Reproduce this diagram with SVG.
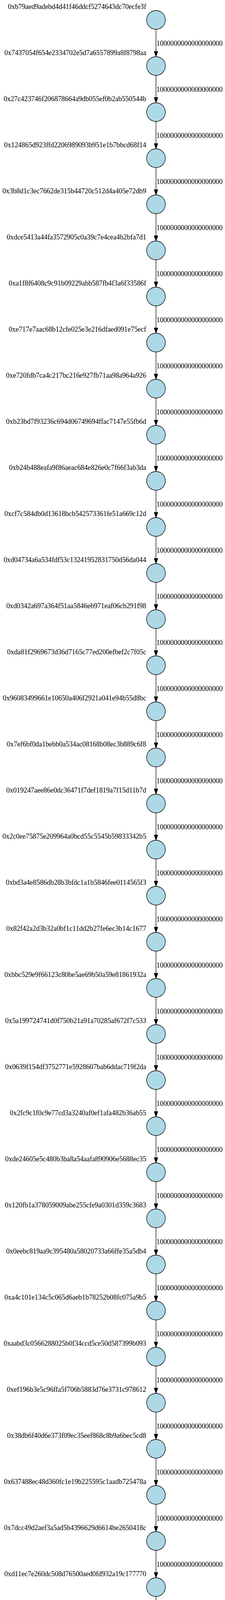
<svg xmlns="http://www.w3.org/2000/svg" width="577" height="4447" viewBox="0 0 577 4447">
<style>
.bg{fill:#ffffff}
.node circle{fill:#add8e6;stroke:#000000;stroke-width:1.3}
.node text{font-family:"Liberation Serif","Times New Roman",serif;font-size:17.9px;fill:#000000;text-anchor:end}
.edge line{stroke:#000000;stroke-width:1.3;fill:none}
.edge text{font-family:"Liberation Serif","Times New Roman",serif;font-size:17.9px;fill:#000000;text-anchor:start}
</style>
<defs>
<marker id="arrow" viewBox="0 0 14 10" refX="14" refY="5" markerUnits="userSpaceOnUse" markerWidth="14" markerHeight="10" orient="auto">
<path d="M0,0 L14,5 L0,10 z" fill="#000000" stroke="#000000" stroke-width="1"/>
</marker>
</defs>
<rect class="bg" x="0" y="0" width="577" height="4447"/>
<g id="connectors">
<g class="edge"><line x1="400" y1="75" x2="400" y2="145" marker-end="url(#arrow)"/><text x="401" y="117">1000000000000000000</text></g>
<g class="edge"><line x1="400" y1="193" x2="400" y2="263" marker-end="url(#arrow)"/><text x="401" y="235">1000000000000000000</text></g>
<g class="edge"><line x1="400" y1="311" x2="400" y2="381" marker-end="url(#arrow)"/><text x="401" y="353">1000000000000000000</text></g>
<g class="edge"><line x1="400" y1="429" x2="400" y2="499" marker-end="url(#arrow)"/><text x="401" y="471">1000000000000000000</text></g>
<g class="edge"><line x1="400" y1="547" x2="400" y2="617" marker-end="url(#arrow)"/><text x="401" y="589">1000000000000000000</text></g>
<g class="edge"><line x1="400" y1="665" x2="400" y2="735" marker-end="url(#arrow)"/><text x="401" y="707">1000000000000000000</text></g>
<g class="edge"><line x1="400" y1="783" x2="400" y2="853" marker-end="url(#arrow)"/><text x="401" y="825">1000000000000000000</text></g>
<g class="edge"><line x1="400" y1="901" x2="400" y2="971" marker-end="url(#arrow)"/><text x="401" y="943">1000000000000000000</text></g>
<g class="edge"><line x1="400" y1="1019" x2="400" y2="1089" marker-end="url(#arrow)"/><text x="401" y="1061">1000000000000000000</text></g>
<g class="edge"><line x1="400" y1="1137" x2="400" y2="1207" marker-end="url(#arrow)"/><text x="401" y="1179">1000000000000000000</text></g>
<g class="edge"><line x1="400" y1="1255" x2="400" y2="1325" marker-end="url(#arrow)"/><text x="401" y="1297">1000000000000000000</text></g>
<g class="edge"><line x1="400" y1="1373" x2="400" y2="1443" marker-end="url(#arrow)"/><text x="401" y="1415">1000000000000000000</text></g>
<g class="edge"><line x1="400" y1="1491" x2="400" y2="1561" marker-end="url(#arrow)"/><text x="401" y="1533">1000000000000000000</text></g>
<g class="edge"><line x1="400" y1="1609" x2="400" y2="1679" marker-end="url(#arrow)"/><text x="401" y="1651">1000000000000000000</text></g>
<g class="edge"><line x1="400" y1="1727" x2="400" y2="1797" marker-end="url(#arrow)"/><text x="401" y="1769">1000000000000000000</text></g>
<g class="edge"><line x1="400" y1="1845" x2="400" y2="1915" marker-end="url(#arrow)"/><text x="401" y="1887">1000000000000000000</text></g>
<g class="edge"><line x1="400" y1="1963" x2="400" y2="2033" marker-end="url(#arrow)"/><text x="401" y="2005">1000000000000000000</text></g>
<g class="edge"><line x1="400" y1="2081" x2="400" y2="2151" marker-end="url(#arrow)"/><text x="401" y="2123">1000000000000000000</text></g>
<g class="edge"><line x1="400" y1="2199" x2="400" y2="2269" marker-end="url(#arrow)"/><text x="401" y="2241">1000000000000000000</text></g>
<g class="edge"><line x1="400" y1="2317" x2="400" y2="2387" marker-end="url(#arrow)"/><text x="401" y="2359">1000000000000000000</text></g>
<g class="edge"><line x1="400" y1="2435" x2="400" y2="2505" marker-end="url(#arrow)"/><text x="401" y="2477">1000000000000000000</text></g>
<g class="edge"><line x1="400" y1="2553" x2="400" y2="2623" marker-end="url(#arrow)"/><text x="401" y="2595">1000000000000000000</text></g>
<g class="edge"><line x1="400" y1="2671" x2="400" y2="2741" marker-end="url(#arrow)"/><text x="401" y="2713">1000000000000000000</text></g>
<g class="edge"><line x1="400" y1="2789" x2="400" y2="2859" marker-end="url(#arrow)"/><text x="401" y="2831">1000000000000000000</text></g>
<g class="edge"><line x1="400" y1="2907" x2="400" y2="2977" marker-end="url(#arrow)"/><text x="401" y="2949">1000000000000000000</text></g>
<g class="edge"><line x1="400" y1="3025" x2="400" y2="3095" marker-end="url(#arrow)"/><text x="401" y="3067">1000000000000000000</text></g>
<g class="edge"><line x1="400" y1="3143" x2="400" y2="3213" marker-end="url(#arrow)"/><text x="401" y="3185">1000000000000000000</text></g>
<g class="edge"><line x1="400" y1="3261" x2="400" y2="3331" marker-end="url(#arrow)"/><text x="401" y="3303">1000000000000000000</text></g>
<g class="edge"><line x1="400" y1="3379" x2="400" y2="3449" marker-end="url(#arrow)"/><text x="401" y="3421">1000000000000000000</text></g>
<g class="edge"><line x1="400" y1="3497" x2="400" y2="3567" marker-end="url(#arrow)"/><text x="401" y="3539">1000000000000000000</text></g>
<g class="edge"><line x1="400" y1="3615" x2="400" y2="3685" marker-end="url(#arrow)"/><text x="401" y="3657">1000000000000000000</text></g>
<g class="edge"><line x1="400" y1="3733" x2="400" y2="3803" marker-end="url(#arrow)"/><text x="401" y="3775">1000000000000000000</text></g>
<g class="edge"><line x1="400" y1="3851" x2="400" y2="3921" marker-end="url(#arrow)"/><text x="401" y="3893">1000000000000000000</text></g>
<g class="edge"><line x1="400" y1="3969" x2="400" y2="4039" marker-end="url(#arrow)"/><text x="401" y="4011">1000000000000000000</text></g>
<g class="edge"><line x1="400" y1="4087" x2="400" y2="4157" marker-end="url(#arrow)"/><text x="401" y="4129">1000000000000000000</text></g>
<g class="edge"><line x1="400" y1="4205" x2="400" y2="4275" marker-end="url(#arrow)"/><text x="401" y="4247">1000000000000000000</text></g>
<g class="edge"><line x1="400" y1="4323" x2="400" y2="4393" marker-end="url(#arrow)"/><text x="401" y="4365">1000000000000000000</text></g>
</g>
<g id="n0" class="node"><circle cx="400" cy="51" r="24"/><text x="375" y="23">0xb79aed9adebd4d41f46ddcf5274643dc70ecfe3f</text></g>
<g id="n1" class="node"><circle cx="400" cy="169" r="24"/><text x="375" y="141">0x7437054f654e2334702e5d7a6557899a8f8798aa</text></g>
<g id="n2" class="node"><circle cx="400" cy="287" r="24"/><text x="375" y="259">0x27c423746f206878664a9db055ef0b2ab550544b</text></g>
<g id="n3" class="node"><circle cx="400" cy="405" r="24"/><text x="375" y="377">0x124865d923ffd2206989093b951e1b7bbcd68f14</text></g>
<g id="n4" class="node"><circle cx="400" cy="523" r="24"/><text x="375" y="495">0x3b8d1c3ec7662de315b44720c512d4a405e72db9</text></g>
<g id="n5" class="node"><circle cx="400" cy="641" r="24"/><text x="375" y="613">0xdce5413a44fa3572905c0a39c7e4cea4b2bfa7d1</text></g>
<g id="n6" class="node"><circle cx="400" cy="759" r="24"/><text x="375" y="731">0xa1f8f6408c9c91b09229abb587fb4f3a6f33586f</text></g>
<g id="n7" class="node"><circle cx="400" cy="877" r="24"/><text x="375" y="849">0xe717e7aac68b12cfe025e3e216dfaed091e75ecf</text></g>
<g id="n8" class="node"><circle cx="400" cy="995" r="24"/><text x="375" y="967">0xe720fdb7ca4c217bc216e927fb71aa98a964a926</text></g>
<g id="n9" class="node"><circle cx="400" cy="1113" r="24"/><text x="375" y="1085">0xb23bd7f93236c694d06749694ffac7147e55fb6d</text></g>
<g id="n10" class="node"><circle cx="400" cy="1231" r="24"/><text x="375" y="1203">0xb24b488eafa9f86aeac684e826e0c7f66f3ab3da</text></g>
<g id="n11" class="node"><circle cx="400" cy="1349" r="24"/><text x="375" y="1321">0xcf7c584db0d13618bcb542573361fe51a669c12d</text></g>
<g id="n12" class="node"><circle cx="400" cy="1467" r="24"/><text x="375" y="1439">0xd04734a6a534fdf53c13241952831750d56da044</text></g>
<g id="n13" class="node"><circle cx="400" cy="1585" r="24"/><text x="375" y="1557">0xd0342a697a364f51aa5846eb971eaf06cb291f98</text></g>
<g id="n14" class="node"><circle cx="400" cy="1703" r="24"/><text x="375" y="1675">0xda81f2969673d36d7165c77ed200efbef2c7f05c</text></g>
<g id="n15" class="node"><circle cx="400" cy="1821" r="24"/><text x="375" y="1793">0x96083499661e10650a406f2921a041e94b55d8bc</text></g>
<g id="n16" class="node"><circle cx="400" cy="1939" r="24"/><text x="375" y="1911">0x7ef6bf0da1bebb0a534ac08168b08ec3b889c6f8</text></g>
<g id="n17" class="node"><circle cx="400" cy="2057" r="24"/><text x="375" y="2029">0x019247aee86e0dc36471f7def1819a7f15d11b7d</text></g>
<g id="n18" class="node"><circle cx="400" cy="2175" r="24"/><text x="375" y="2147">0x2c0ee75875e209964a0bcd55c5545b59833342b5</text></g>
<g id="n19" class="node"><circle cx="400" cy="2293" r="24"/><text x="375" y="2265">0xbd3a4e8586db28b3bfdc1a1b5846fee0114565f3</text></g>
<g id="n20" class="node"><circle cx="400" cy="2411" r="24"/><text x="375" y="2383">0x82f42a2d3b32a0bf1c11dd2b27fe6ec3b14c1677</text></g>
<g id="n21" class="node"><circle cx="400" cy="2529" r="24"/><text x="375" y="2501">0xbbc529e9f66123c80be5ae69b50a59e81861932a</text></g>
<g id="n22" class="node"><circle cx="400" cy="2647" r="24"/><text x="375" y="2619">0x5a199724741d0f750b21a91a70285af672f7c533</text></g>
<g id="n23" class="node"><circle cx="400" cy="2765" r="24"/><text x="375" y="2737">0x0639f154df3752771e5928607bab6ddac719f2da</text></g>
<g id="n24" class="node"><circle cx="400" cy="2883" r="24"/><text x="375" y="2855">0x2fc9c1f0c9e77cd3a3240af0ef1afa482b36ab55</text></g>
<g id="n25" class="node"><circle cx="400" cy="3001" r="24"/><text x="375" y="2973">0xde24605e5c480b3ba8a54aafa890906e5688ec35</text></g>
<g id="n26" class="node"><circle cx="400" cy="3119" r="24"/><text x="375" y="3091">0x120fb1a378059009abe255cfe9a0301d359c3683</text></g>
<g id="n27" class="node"><circle cx="400" cy="3237" r="24"/><text x="375" y="3209">0x0eebc819aa9c395480a58020733a66ffe35a5db4</text></g>
<g id="n28" class="node"><circle cx="400" cy="3355" r="24"/><text x="375" y="3327">0xa4c101e134c5c065d6aeb1b78252b08fc075a9b5</text></g>
<g id="n29" class="node"><circle cx="400" cy="3473" r="24"/><text x="375" y="3445">0xaabd3c0566288025b0f34ccd5ce50d587399b093</text></g>
<g id="n30" class="node"><circle cx="400" cy="3591" r="24"/><text x="375" y="3563">0xef196b3e5c96ffa5f706b5883d76e3731c978612</text></g>
<g id="n31" class="node"><circle cx="400" cy="3709" r="24"/><text x="375" y="3681">0x38db6f40d6e373f09ec35eef868c8b9a6bec5cd8</text></g>
<g id="n32" class="node"><circle cx="400" cy="3827" r="24"/><text x="375" y="3799">0x637488ec48d360fc1e19b225595c1aadb725478a</text></g>
<g id="n33" class="node"><circle cx="400" cy="3945" r="24"/><text x="375" y="3917">0x7dcc49d2aef3a5ad5b4396629d6614be2650418c</text></g>
<g id="n34" class="node"><circle cx="400" cy="4063" r="24"/><text x="375" y="4035">0xd11ec7e260dc508d76500aed0fd932a19c177770</text></g>
<g id="n35" class="node"><circle cx="400" cy="4181" r="24"/><text x="375" y="4153">0x685af6d3067bc713b2dc31b217a9e6f42a7b8d75</text></g>
<g id="n36" class="node"><circle cx="400" cy="4299" r="24"/><text x="375" y="4271">0x57c1dd02924412e8c3d5b8af908199567f1ae01d</text></g>
<g id="n37" class="node"><circle cx="400" cy="4417" r="24"/><text x="375" y="4389">0x21ee7e1a042b0ac154b72dbd2e384dd46431e47a</text></g>
</svg>
